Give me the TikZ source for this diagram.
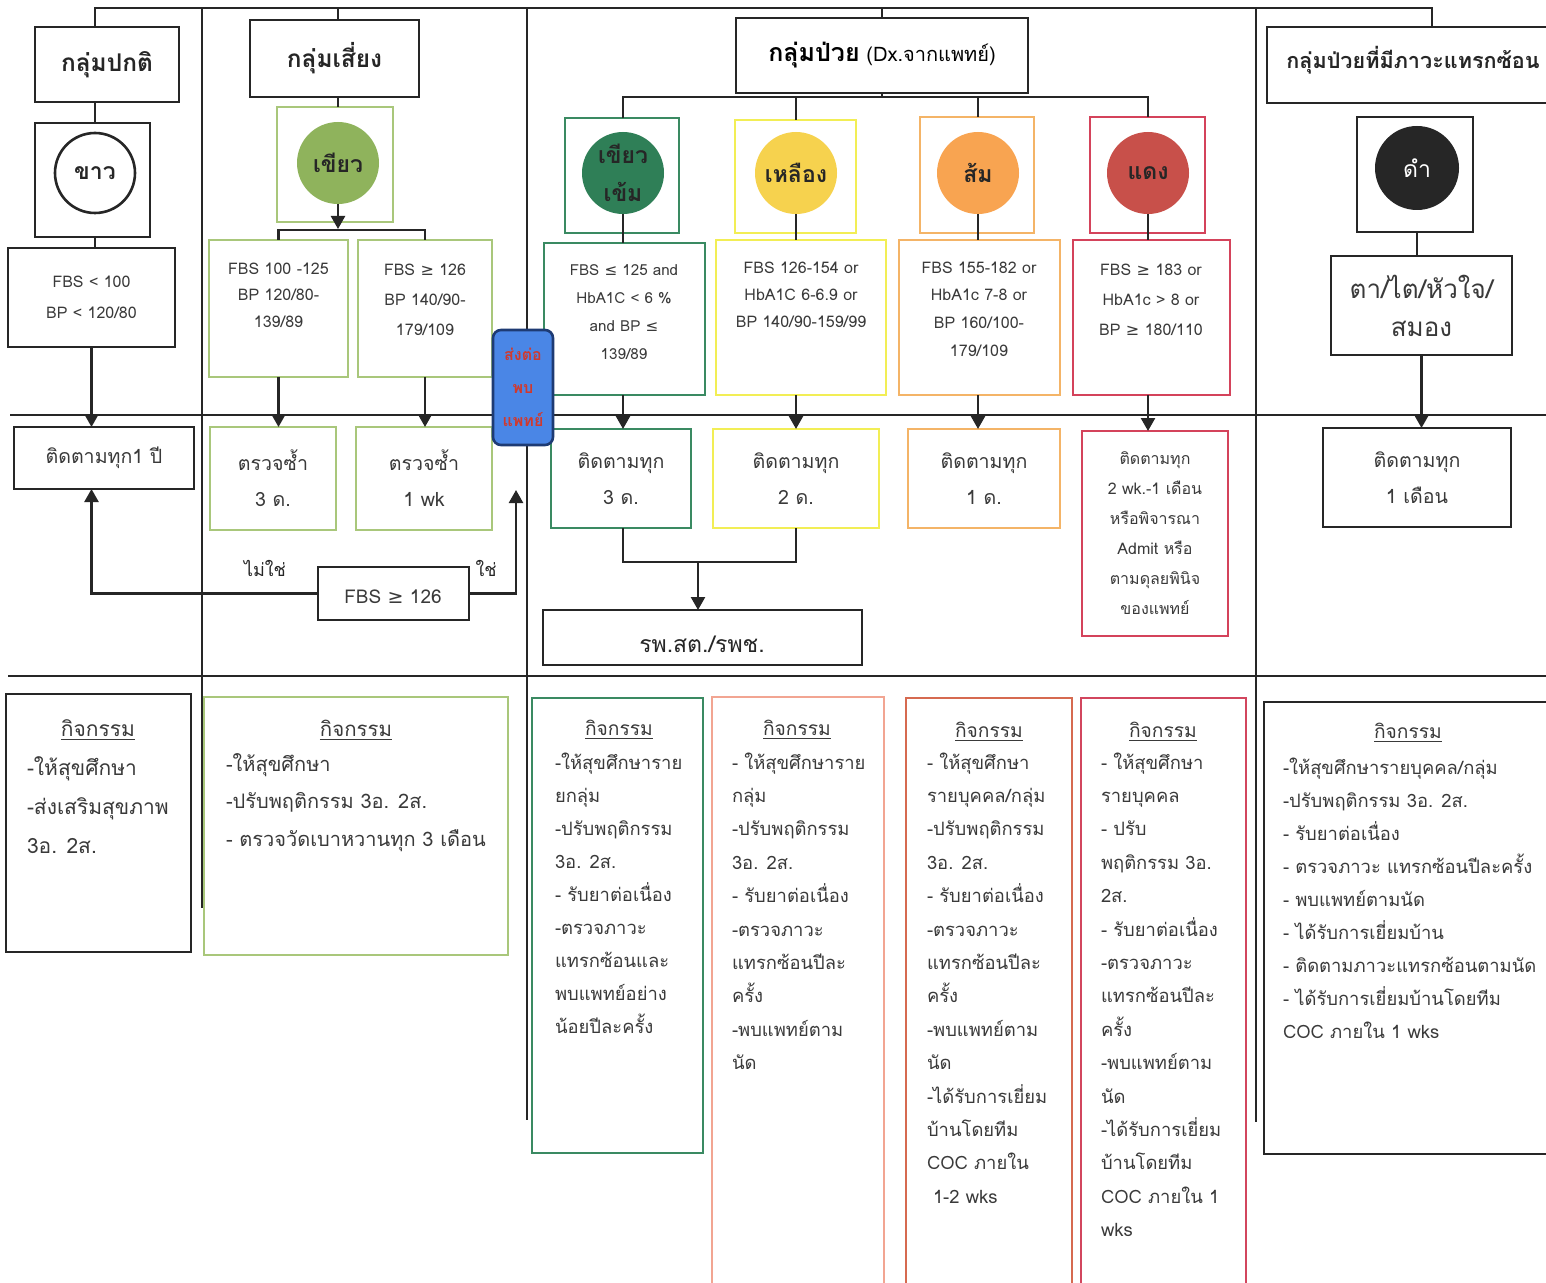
\documentclass[tikz,border=0pt]{standalone}
\usepackage{fontspec}
\setmainfont[Script=Thai]{Loma}
\newfontfamily\symf{DejaVu Sans}
\usetikzlibrary{arrows.meta}

\definecolor{ink}{HTML}{262626}
\definecolor{txt}{HTML}{3A3A3A}
\definecolor{riskline}{HTML}{A9C77B}
\definecolor{riskfill}{HTML}{8FB35C}
\definecolor{dgline}{HTML}{3A8A62}
\definecolor{dgfill}{HTML}{2F7F57}
\definecolor{yline}{HTML}{F2EE55}
\definecolor{yfill}{HTML}{F6D24E}
\definecolor{oline}{HTML}{F4B467}
\definecolor{ofill}{HTML}{F8A451}
\definecolor{rline}{HTML}{D4435B}
\definecolor{rfill}{HTML}{C8504A}
\definecolor{salmon}{HTML}{F2A592}
\definecolor{brick}{HTML}{D66A50}
\definecolor{crim}{HTML}{D2465E}
\definecolor{navy}{HTML}{1E3B74}
\definecolor{bluefill}{HTML}{4A86E6}
\definecolor{refer}{HTML}{D0392E}

\newcommand\gesym{{\symf ≥}}
\newcommand\lesym{{\symf ≤}}
\newcommand\fsz[2]{\fontsize{#1}{#2}\selectfont}

% box given by its corners in pixel units: name, style, x1, y1, x2, y2, text
\newcommand\pbox[7]{\node[#2, minimum width={(#5-#3)*0.5pt}, minimum height={(#6-#4)*0.5pt}] (#1) at ({(#3+#5)/2},{(#4+#6)/2}) {#7};}
% list of text lines: name, left x, first baseline y, line step, lines
\newcommand\actlines[5]{\foreach \t [count=\i] in {#5} {\node[acttext] (#1-\i) at (#2,{#3+(\i-1)*#4}) {\t};}}

\tikzset{
  every node/.style={inner sep=0pt, outer sep=0pt},
  frame/.style={draw=ink, line width=1.4pt},
  cframe/.style={draw=#1, line width=1.2pt},
  conn/.style={draw=ink, line width=1.2pt},
  arr/.style={conn, -{Triangle[width=7pt,length=6.5pt]}},
  sep/.style={draw=ink, line width=1.2pt},
  dot/.style={circle, minimum size=41pt, font=\bfseries\fsz{11.5}{19}, align=center, text=ink},
  head/.style={font=\bfseries\fsz{12.2}{16}, text=ink},
  small/.style={font=\fsz{8}{#1}, text=txt, align=center},
  small/.default=14,
  mid/.style={font=\fsz{9.8}{18}, text=txt, align=center},
  acttext/.style={anchor=base west, font=\fsz{9.2}{12}, text=txt},
  acthead/.style={font=\fsz{9.6}{12}, text=txt},
}

\begin{document}
\begin{tikzpicture}[x=0.5pt,y=-0.5pt]
\useasboundingbox (0,0) rectangle (1546,1283);
\fill[white] (0,0) rectangle (1546,1283);
\clip (0,0) rectangle (1546,1283);

% ---------- lane and row rules ----------
\draw[sep] (202,8) -- (202,908);
\draw[sep] (527,8) -- (527,1120);
\draw[sep] (1256,8) -- (1256,1122);
\draw[sep] (10,415) -- (1546,415);
\draw[sep] (8,676) -- (1546,676);

% ---------- normal group ----------
\pbox{nh}{frame, head}{35}{27}{179}{102}{กลุ่มปกติ}
\pbox{nb}{frame}{35}{123}{150}{237}{}
\node[dot, draw=ink, line width=1.3pt, minimum size=40pt] (nc) at (95,173) {ขาว};
\pbox{nf}{frame, small=15.5}{8}{248}{175}{347}{FBS < 100\\BP < 120/80}
\pbox{nt}{frame, mid}{14}{427}{194}{489}{ติดตามทุก1 ปี}

% ---------- risk group ----------
\pbox{rh}{frame, head}{250}{20}{419}{97}{กลุ่มเสี่ยง}
\pbox{rb}{cframe=riskline}{277}{107}{393}{222}{}
\node[dot, fill=riskfill] (rc) at (338,163) {เขียว};
\pbox{r1}{cframe=riskline}{209}{240}{348}{377}{}
\node[small=13.3] (r1t) at (278.5,295) {FBS 100 -125\\BP 120/80-\\139/89};
\pbox{r2}{cframe=riskline}{358}{240}{492}{377}{}
\node[small=15] (r2t) at (425,300) {FBS \gesym{} 126\\BP 140/90-\\179/109};
\pbox{rt1}{cframe=riskline, mid}{210}{427}{336}{530}{ตรวจซ้ำ\\3 ด.}
\pbox{rt2}{cframe=riskline, mid}{356}{427}{492}{530}{ตรวจซ้ำ\\1 wk}
\pbox{rq}{frame}{318}{567}{469}{620}{}
\node[font=\fsz{9.5}{12}, text=txt] (rqt) at (393,597) {FBS \gesym{} 126};
\node[font=\fsz{9}{12}, text=ink] (no) at (265,568) {ไม่ใช่};
\node[font=\fsz{9}{12}, text=ink] (yes) at (486,568) {ใช่};
\coordinate (yesend) at (516,490);

% ---------- sick group ----------
\pbox{sh}{frame}{736}{18}{1028}{93}{{\bfseries\fsz{12.5}{16}กลุ่มป่วย} {\fsz{10}{12}(Dx.จากแพทย์)}}
\coordinate (sbar) at (879,97);
\pbox{d1}{cframe=dgline}{565}{118}{679}{233}{}
\pbox{d2}{cframe=yline}{735}{120}{856}{233}{}
\pbox{d3}{cframe=oline}{920}{117}{1034}{233}{}
\pbox{d4}{cframe=rline}{1090}{117}{1205}{233}{}
\node[dot, fill=dgfill] (d1c) at (623,173) {เขียว\\เข้ม};
\node[dot, fill=yfill] (d2c) at (796,173) {เหลือง};
\node[dot, fill=ofill] (d3c) at (978,173) {ส้ม};
\node[dot, fill=rfill] (d4c) at (1148,173) {แดง};

\pbox{c1}{cframe=dgline}{544}{243}{705}{395}{}
\pbox{c2}{cframe=yline}{716}{240}{886}{395}{}
\pbox{c3}{cframe=oline}{899}{240}{1060}{395}{}
\pbox{c4}{cframe=rline}{1073}{240}{1230}{395}{}
\node[small=14, font=\fsz{7.6}{14}] (c1t) at (624,312) {FBS \lesym{} 125 and\\HbA1C < 6 \%\\and BP \lesym\\139/89};
\node[small=13.5] (c2t) at (801,295) {FBS 126-154 or\\HbA1C 6-6.9 or\\BP 140/90-159/99};
\node[small=13.8] (c3t) at (979,309) {FBS 155-182 or\\HbA1c 7-8 or\\BP 160/100-\\179/109};
\node[small=15] (c4t) at (1151,300) {FBS \gesym{} 183 or\\HbA1c > 8 or\\BP \gesym{} 180/110};

\pbox{f1}{cframe=dgline, mid}{551}{429}{691}{528}{ติดตามทุก\\3 ด.}
\pbox{f2}{cframe=yline, mid}{713}{429}{879}{528}{ติดตามทุก\\2 ด.}
\pbox{f3}{cframe=oline, mid}{908}{429}{1060}{528}{ติดตามทุก\\1 ด.}
\pbox{f4}{cframe=rline, small=15}{1082}{431}{1228}{636}{ติดตามทุก\\2 wk.-1 เดือน\\หรือพิจารณา\\Admit หรือ\\ตามดุลยพินิจ\\ของแพทย์}
\coordinate (mrg) at (698,562);
\pbox{hosp}{frame}{543}{610}{862}{665}{}
\node[font=\fsz{11.5}{14}, text=ink] (hospt) at (702,644) {รพ.สต./รพช.};

% ---------- complication group ----------
\pbox{ch}{frame}{1267}{27}{1570}{103}{}
\node[head, font=\bfseries\fsz{10.8}{16}] (cht) at (1413,60) {กลุ่มป่วยที่มีภาวะแทรกซ้อน};
\coordinate (chdrop) at (1432,27);
\pbox{kb}{frame}{1357}{117}{1473}{232}{}
\node[dot, fill=ink, text=white, font=\fsz{11.5}{16}, minimum size=42pt] (kc) at (1417,168) {ดำ};
\pbox{ko}{frame, font=\fsz{13}{19}, text=txt, align=center}{1331}{256}{1512}{355}{ตา/ไต/หัวใจ/\\สมอง}
\pbox{kf}{frame, mid}{1323}{428}{1511}{527}{ติดตามทุก\\1 เดือน}

% ---------- connectors ----------
\coordinate (bus) at (0,8);
\draw[conn] (nc |- nh.north) |- (chdrop |- bus) -- (chdrop);
\draw[conn] (rc |- rh.north) -- (rc |- bus);
\draw[conn] (sh.north) -- (sh.north |- bus);
\draw[conn] (nc |- nh.south) -- (nc |- nb.north);
\draw[conn] (nc |- nb.south) -- (nc |- nf.north);
\draw[arr] (nf.south) -- (nf.south |- nt.north);
\draw[arr] (rq.west) -| (nf.south |- nt.south);
\draw[arr] (rq.east) -| (yesend);

\coordinate (rbar) at (338,230);
\draw[conn] (rc |- rh.south) -- (rc |- rb.north);
\draw[arr] (rc.south) -- ([yshift=0.5pt]rbar);
\draw[conn] (r1.north) |- (rbar) -| (r2.north);
\draw[arr] (r1.south) -- (r1.south |- rt1.north);
\draw[arr] (r2.south) -- (r2.south |- rt2.north);

\draw[conn] (sh.south) -- (sh.south |- sbar);
\draw[conn] (d1c |- d1.north) |- (sbar) -| (d4c |- d4.north);
\draw[conn] (d2c |- d2.north) -- (d2c |- sbar);
\draw[conn] (d3c |- d3.north) -- (d3c |- sbar);
\foreach \k in {1,2,3,4} {
  \draw[conn] (d\k c.south) -- (d\k c |- c\k.north);
  \draw[arr] (d\k c |- c\k.south) -- (d\k c |- f\k.north);
}
\draw[conn] (d1c |- f1.south) |- (mrg) -| (f2.south);
\draw[arr] (mrg) -- (mrg |- hosp.north);

\draw[conn] (kc |- kb.south) -- (kc |- ko.north);
\draw[arr] (ko.south) -- (ko.south |- kf.north);

% referral box sits on top of the lane rule
\pbox{refbox}{draw=navy, line width=1.3pt, fill=bluefill, rounded corners=4pt, font=\bfseries\fsz{8}{16.5}, text=refer, align=center}{493}{330}{553}{445}{ส่งต่อ\\พบ\\แพทย์}

% ---------- activity boxes ----------
\pbox{a1}{frame}{6}{694}{191}{952}{}
\pbox{a2}{cframe=riskline}{204}{697}{508}{955}{}
\pbox{a3}{cframe=dgline}{532}{698}{703}{1153}{}
\pbox{a4}{cframe=salmon}{712}{697}{884}{1300}{}
\pbox{a5}{cframe=brick}{906}{698}{1072}{1300}{}
\pbox{a6}{cframe=crim}{1081}{698}{1246}{1300}{}
\pbox{a7}{frame}{1264}{702}{1570}{1154}{}

\node[acthead, font=\fsz{10.5}{12}] (h1) at (98,730) {\underline{กิจกรรม}};
\node[acthead, font=\fsz{10.2}{12}] (h2) at (356,730) {\underline{กิจกรรม}};
\node[acthead] (h3) at (619,730) {\underline{กิจกรรม}};
\node[acthead] (h4) at (797,730) {\underline{กิจกรรม}};
\node[acthead] (h5) at (989,732) {\underline{กิจกรรม}};
\node[acthead] (h6) at (1163,732) {\underline{กิจกรรม}};
\node[acthead] (h7) at (1408,733) {\underline{กิจกรรม}};

\begin{scope}[acttext/.append style={font=\fsz{10.5}{12}}]
\actlines{l1}{27}{775}{39}{-ให้สุขศึกษา,-ส่งเสริมสุขภาพ,3อ. 2ส.}
\end{scope}
\begin{scope}[acttext/.append style={font=\fsz{10}{12}}]
\actlines{l2}{226}{771}{37.5}{-ให้สุขศึกษา,-ปรับพฤติกรรม 3อ. 2ส.,- ตรวจวัดเบาหวานทุก 3 เดือน}
\end{scope}
\actlines{l3}{555}{769}{33.1}{-ให้สุขศึกษาราย,ยกลุ่ม,-ปรับพฤติกรรม,3อ. 2ส.,- รับยาต่อเนื่อง,-ตรวจภาวะ,แทรกซ้อนและ,พบแพทย์อย่าง,น้อยปีละครั้ง}
\actlines{l4}{732}{769}{33.4}{- ให้สุขศึกษาราย,กลุ่ม,-ปรับพฤติกรรม,3อ. 2ส.,- รับยาต่อเนื่อง,-ตรวจภาวะ,แทรกซ้อนปีละ,ครั้ง,-พบแพทย์ตาม,นัด}
\actlines{l5}{927}{769}{33.4}{- ให้สุขศึกษา,รายบุคคล/กลุ่ม,-ปรับพฤติกรรม,3อ. 2ส.,- รับยาต่อเนื่อง,-ตรวจภาวะ,แทรกซ้อนปีละ,ครั้ง,-พบแพทย์ตาม,นัด,-ได้รับการเยี่ยม,บ้านโดยทีม,COC ภายใน,\hspace{3pt}1-2 wks}
\actlines{l6}{1101}{769}{33.4}{- ให้สุขศึกษา,รายบุคคล,- ปรับ,พฤติกรรม 3อ.,2ส.,- รับยาต่อเนื่อง,-ตรวจภาวะ,แทรกซ้อนปีละ,ครั้ง,-พบแพทย์ตาม,นัด,-ได้รับการเยี่ยม,บ้านโดยทีม,COC ภายใน 1,wks}
\actlines{l7}{1283}{774}{33.1}{-ให้สุขศึกษารายบุคคล/กลุ่ม,-ปรับพฤติกรรม 3อ. 2ส.,- รับยาต่อเนื่อง,- ตรวจภาวะ แทรกซ้อนปีละครั้ง,- พบแพทย์ตามนัด,- ได้รับการเยี่ยมบ้าน,- ติดตามภาวะแทรกซ้อนตามนัด,- ได้รับการเยี่ยมบ้านโดยทีม,COC ภายใน 1 wks}
\end{tikzpicture}
\end{document}
